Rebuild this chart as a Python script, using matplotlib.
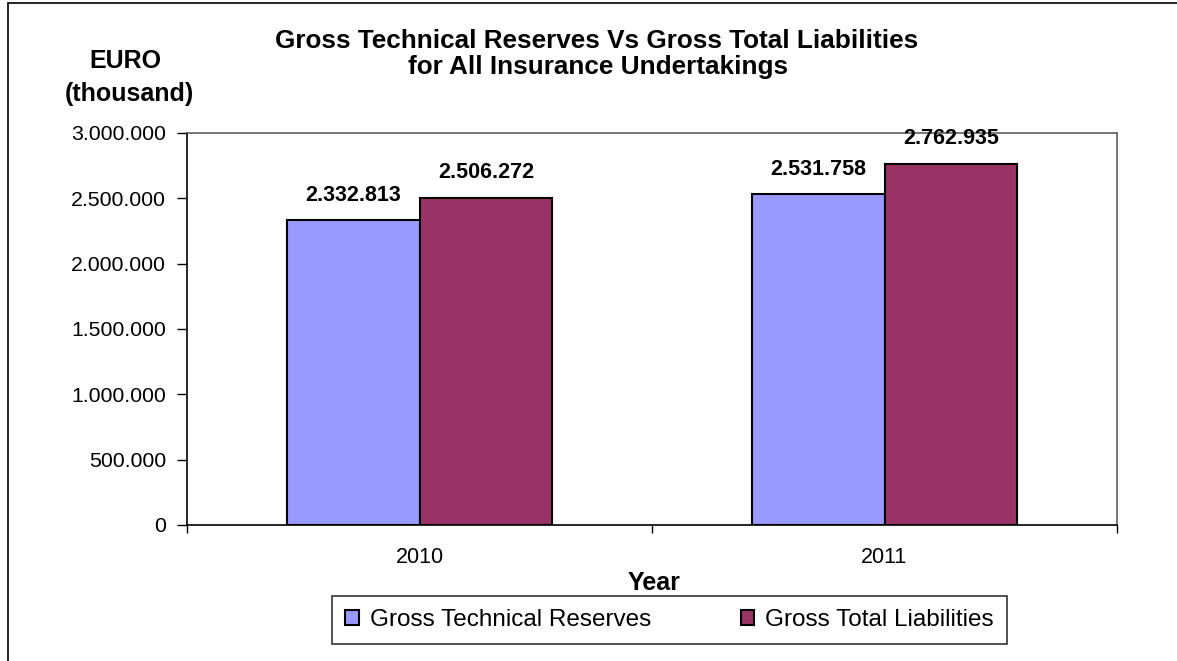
import matplotlib
matplotlib.use("Agg")
import matplotlib.pyplot as plt
from matplotlib.patches import Rectangle
from matplotlib.ticker import FixedLocator, FuncFormatter
import numpy as np

plt.rcParams['font.family'] = ['Liberation Sans', 'DejaVu Sans']

# Data (EUR thousand)
years = ['2010', '2011']
series_names = ['Gross Technical Reserves', 'Gross Total Liabilities']
technical_reserves = [2332813, 2531758]
total_liabilities = [2506272, 2762935]
colors = ['#9999FF', '#993366']
y_ticks = [0, 500000, 1000000, 1500000, 2000000, 2500000, 3000000]

W, H = 1177, 661
fig = plt.figure(figsize=(W / 100, H / 100), dpi=100)
fig.patch.set_facecolor('white')

ax = fig.add_axes([187 / W, 1 - 525 / H, (1117 - 187) / W, (525 - 133) / H])

x = np.arange(len(years))
bw = 1 / 3.5
for i, (vals, name, col) in enumerate(zip([technical_reserves, total_liabilities],
                                          series_names, colors)):
    xpos = x + (i - 0.5) * bw
    ax.bar(xpos, vals, width=bw, color=col, edgecolor='black',
           linewidth=1.5, label=name, zorder=2)
    for xp, v in zip(xpos, vals):
        label = f"{v:,}".replace(',', '.')
        ax.annotate(label, (xp, v), xytext=(0, 25), textcoords='offset pixels',
                    ha='center', va='center', fontsize=15.5, fontweight='bold')

ax.set_xlim(-0.5, 1.5)
ax.set_ylim(0, 3000000)

def thousands(v, pos):
    return f"{int(v):,}".replace(',', '.')

ax.yaxis.set_major_locator(FixedLocator(y_ticks))
ax.yaxis.set_major_formatter(FuncFormatter(thousands))
ax.tick_params(axis='y', direction='out', length=7, width=1, labelsize=15.3, pad=8)

ax.set_xticks(x)
ax.set_xticklabels(years)
ax.set_xticks([-0.5, 0.5, 1.5], minor=True)
ax.tick_params(axis='x', which='major', length=0, labelsize=15.5, pad=16)
ax.tick_params(axis='x', which='minor', direction='out', length=6, width=1)

for side in ['left', 'bottom']:
    ax.spines[side].set_color('black')
    ax.spines[side].set_linewidth(1.2)
for side in ['top', 'right']:
    ax.spines[side].set_color('#606060')
    ax.spines[side].set_linewidth(1.2)

# Titles and axis captions
fig.text(597 / W, 1 - 48 / H, 'Gross Technical Reserves Vs Gross Total Liabilities',
         ha='center', va='baseline', fontsize=18.8, fontweight='bold')
fig.text(598 / W, 1 - 74 / H, 'for All Insurance Undertakings',
         ha='center', va='baseline', fontsize=18.8, fontweight='bold')
fig.text(125 / W, 1 - 68 / H, 'EURO', ha='center', va='baseline',
         fontsize=18, fontweight='bold')
fig.text(129 / W, 1 - 101 / H, '(thousand)', ha='center', va='baseline',
         fontsize=18, fontweight='bold')
fig.text(654 / W, 1 - 590 / H, 'Year', ha='center', va='baseline',
         fontsize=18, fontweight='bold')

leg = ax.legend(loc='center', bbox_to_anchor=(669.5 / W, 1 - 620 / H),
                bbox_transform=fig.transFigure, ncol=2, fontsize=17.5,
                frameon=True, fancybox=False, edgecolor='black',
                handlelength=0.55, handleheight=0.55, handletextpad=0.45,
                columnspacing=3.7, borderpad=0.55, borderaxespad=0)
leg.get_frame().set_linewidth(1.2)

# Outer frame of the chart area
fig.add_artist(Rectangle((8 / W, -0.1), 1.2, 1.1 - 3 / H, transform=fig.transFigure,
                         fill=False, edgecolor='black', linewidth=1.2))

fig.savefig('out.png', dpi=100, facecolor='white')
